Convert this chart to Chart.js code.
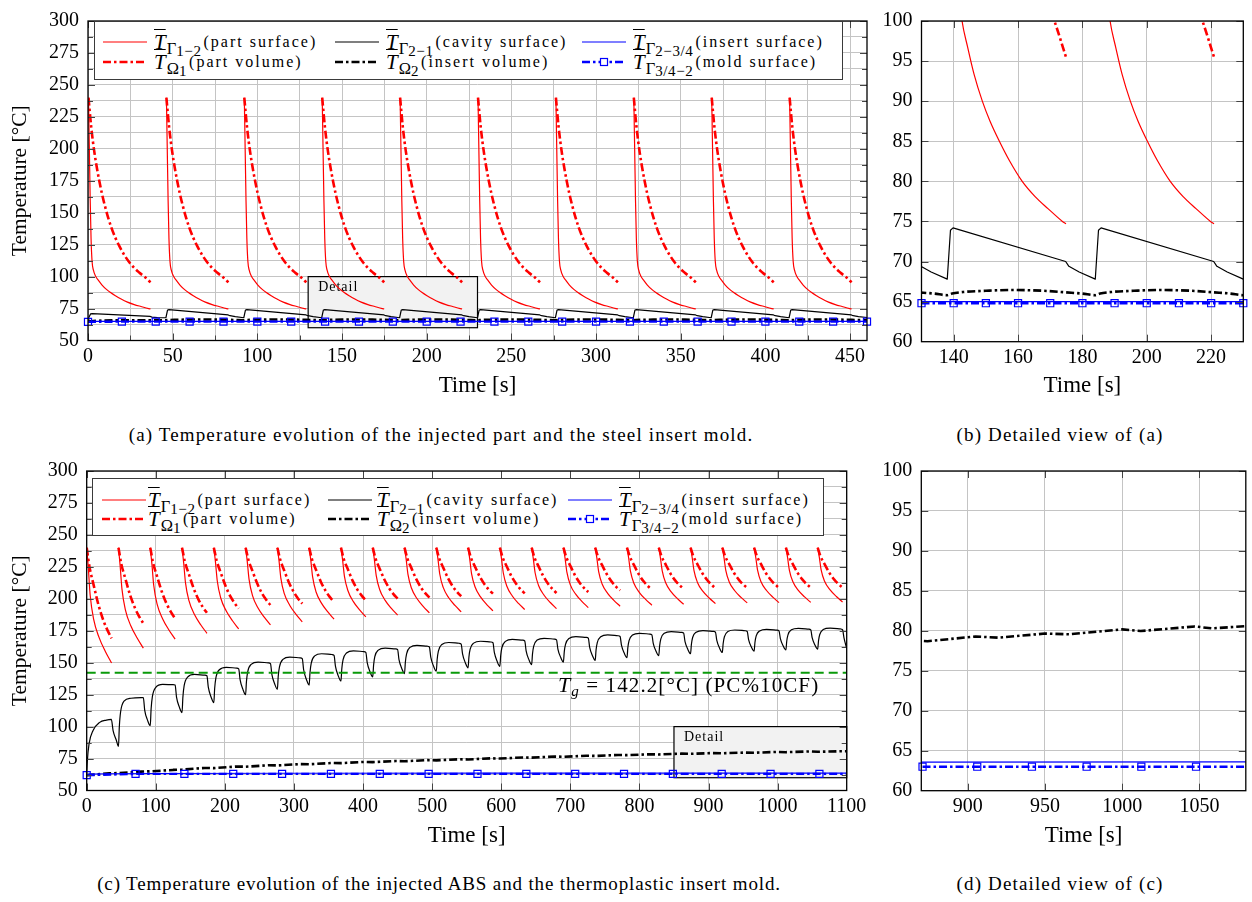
<!DOCTYPE html>
<html>
<head>
<meta charset="utf-8">
<title>Temperature evolution</title>
<script src="https://cdn.jsdelivr.net/npm/chart.js@4.4.1/dist/chart.umd.min.js"></script>
<style>
  html, body { margin:0; padding:0; background:#fff; }
  body { width:1252px; height:902px; position:relative; overflow:hidden; font-family:"Liberation Serif","Times New Roman",serif; color:#000; }
  canvas { position:absolute; }
  .legend { position:absolute; background:#fff; border:1.3px solid #3a3a3a; box-sizing:border-box; }
  .sample { position:absolute; }
  .ltext { position:absolute; white-space:nowrap; height:24px; line-height:24px; }
  .mT { font-style:italic; font-size:21px; text-decoration:overline; text-decoration-thickness:1px; }
  .mS { font-size:16.5px; position:relative; top:5px; margin-left:1px; }
  .mSS { font-size:15px; position:relative; top:2px; letter-spacing:0.6px; }
  .mD { font-size:16px; letter-spacing:2px; margin-left:2px; position:relative; top:-2px; }
  .caption { position:absolute; white-space:nowrap; font-size:19px; letter-spacing:1.15px; transform:translateX(-50%); line-height:24px; }
  .caption.c2 { letter-spacing:0.85px; }
  .tg { position:absolute; white-space:nowrap; font-size:21px; letter-spacing:1.1px; line-height:24px; }
  .tg i { font-size:22px; }
  .tg sub { font-size:15px; font-style:italic; vertical-align:-4px; }
</style>
</head>
<body>
<canvas id="cA" width="880" height="400" style="left:0;top:0"></canvas>
<canvas id="cB" width="372" height="400" style="left:880px;top:0"></canvas>
<canvas id="cC" width="880" height="400" style="left:0;top:450px"></canvas>
<canvas id="cD" width="372" height="400" style="left:880px;top:450px"></canvas>

<div id="legA" class="legend" style="left:94px;top:21px;width:749px;height:59px"></div>
<div id="legC" class="legend" style="left:92px;top:478px;width:732px;height:58px"></div>

<div class="tg" style="left:558px;top:673px"><i>T</i><sub>g</sub> = 142.2[°C] (PC%10CF)</div>

<div class="caption" style="left:441px;top:423px">(a) Temperature evolution of the injected part and the steel insert mold.</div>
<div class="caption" style="left:1060px;top:423px">(b) Detailed view of (a)</div>
<div class="caption c2" style="left:439px;top:872px">(c) Temperature evolution of the injected ABS and the thermoplastic insert mold.</div>
<div class="caption" style="left:1060px;top:872px">(d) Detailed view of (c)</div>

<script>
// ================= DATA: (a)/(b) steel insert mold =================
const cycleStartA = [0, 46, 92, 138, 184, 230, 276, 322, 368, 414];
// part surface (red solid), offsets within a cycle [s] and temperatures [°C]
const partSurfA_dt = [0.3, 0.8, 1.3, 1.8, 2.4, 3.2, 4.6, 6.3, 8.3, 10.9, 13.3, 16.2, 19.3, 23.3, 27.3, 31.3, 35.8, 36.9];
const partSurfA_T  = [240, 200, 160, 130, 112, 105, 100, 96.8, 93.4, 90, 87.5, 85, 82.6, 80, 78.1, 76.6, 75.0, 74.7];
// part volume (red dash-dot)
const partVolA_dt = [0.3, 1.9, 3.8, 6.8, 9.8, 13.7, 18.6, 24.5, 30.4, 33.3, 36.9];
const partVolA_T  = [240, 217, 197, 174, 156.3, 138.7, 123.6, 111, 103, 100, 95.5];
// cavity surface (black solid)
const cavityA_first_t = [0, 0.5, 1.5, 2.5, 36.8, 37.8, 41];
const cavityA_first_T = [65.5, 68, 70.8, 71.0, 68.8, 68.3, 67.9];
const cavityA_dt = [0, 1.0, 1.8, 36.8, 37.8, 41];
const cavityA_T  = [67.8, 73.9, 74.2, 70.0, 69.4, 68.7];
const cavityA_end = [460, 68.0];
// insert volume (black dash-dot)
const insertVolA_first_t = [0, 5, 15, 30, 40];
const insertVolA_first_T = [64.9, 65.4, 65.8, 65.9, 65.9];
const insertVolA_dt = [0, 1.5, 5, 12, 20, 30, 37, 42];
const insertVolA_T  = [65.8, 66.0, 66.2, 66.35, 66.45, 66.35, 66.15, 66.0];
const insertVolA_end = [460, 65.8];
// insert surface (blue solid)
const insertSurfA_t = [0, 2, 460];
const insertSurfA_T = [64.7, 65.0, 65.0];
// mold surface (blue dash-dot, squares)
const moldSurfA_t = [0,10,20,30,40,50,60,70,80,90,100,110,120,130,140,150,160,170,180,190,200,210,220,230,240,250,260,270,280,290,300,310,320,330,340,350,360,370,380,390,400,410,420,430,440,450,460];
const moldSurfA_T = [64.6,64.7,64.75,64.8,64.8,64.8,64.8,64.8,64.8,64.8,64.8,64.8,64.8,64.8,64.8,64.8,64.8,64.8,64.8,64.8,64.8,64.8,64.8,64.8,64.8,64.8,64.8,64.8,64.8,64.8,64.8,64.8,64.8,64.8,64.8,64.8,64.8,64.8,64.8,64.8,64.8,64.8,64.8,64.8,64.8,64.8,64.8];

// ================= DATA: (c)/(d) thermoplastic insert mold =================
const cycleStartC = [0,46,92,138,184,230,276,322,368,414,460,506,552,598,644,690,736,782,828,874,920,966,1012,1058];
const partSurfC_dt = [0, 2.4, 5, 10, 18, 27, 36];
const partSurfC = [
 [240,223.8,203.0,184.1,169.6,158.8,149.8],
 [240,225.9,207.8,191.3,178.7,169.3,161.4],
 [240,227.1,210.6,195.6,184.2,175.6,168.4],
 [240,227.9,212.5,198.5,187.7,179.7,173.0],
 [240,228.6,213.9,200.6,190.4,182.8,176.4],
 [240,229.1,215.2,202.5,192.8,185.6,179.5],
 [240,229.6,216.2,204.0,194.8,187.8,182.0],
 [240,229.9,217.1,205.3,196.4,189.7,184.1],
 [240,230.3,217.8,206.5,197.8,191.3,185.9],
 [240,230.5,218.4,207.3,198.8,192.5,187.2],
 [240,230.8,219.1,208.4,200.2,194.1,189.0],
 [240,231.0,219.4,208.9,200.8,194.8,189.8],
 [240,231.1,219.7,209.4,201.5,195.5,190.6],
 [240,231.3,220.2,210.0,202.2,196.4,191.6],
 [240,231.4,220.4,210.4,202.8,197.1,192.3],
 [240,231.6,220.8,210.9,203.4,197.8,193.1],
 [240,231.8,221.2,211.6,204.3,198.8,194.2],
 [240,231.9,221.6,212.1,204.9,199.5,195.0],
 [240,232.0,221.8,212.5,205.4,200.1,195.7],
 [240,232.1,222.0,212.8,205.8,200.6,196.2],
 [240,232.2,222.3,213.2,206.3,201.1,196.8],
 [240,232.3,222.4,213.3,206.5,201.3,197.0],
 [240,232.3,222.5,213.5,206.6,201.5,197.2],
 [240,232.4,222.6,213.7,206.9,201.8,197.5]
];
const partVolC_dt = [0, 4, 10, 17, 24, 30, 36];
const partVolC = [
 [240,225.1,210.9,195.3,183.3,175.5,169.1],
 [240,227.5,215.7,202.6,192.6,186.0,180.7],
 [240,228.4,217.3,205.1,195.7,189.6,184.6],
 [240,229.3,219.1,207.9,199.2,193.6,189.0],
 [240,230.0,220.5,210.0,201.9,196.7,192.4],
 [240,230.6,221.6,211.7,204.0,199.1,195.0],
 [240,230.8,222.0,212.4,205.0,200.1,196.2],
 [240,231.1,222.6,213.2,206.0,201.3,197.5],
 [240,231.3,223.1,214.0,207.0,202.5,198.8],
 [240,231.6,223.6,214.9,208.1,203.7,200.1],
 [240,231.8,224.0,215.4,208.7,204.4,200.9],
 [240,232.0,224.4,216.1,209.6,205.4,202.0],
 [240,232.4,225.2,217.3,211.2,207.2,204.0],
 [240,232.5,225.3,217.4,211.4,207.4,204.2],
 [240,232.5,225.4,217.6,211.6,207.7,204.5],
 [240,232.7,225.8,218.1,212.2,208.4,205.3],
 [240,233.0,226.3,219.0,213.3,209.6,206.6],
 [240,233.1,226.5,219.3,213.7,210.1,207.1],
 [240,233.2,226.8,219.7,214.2,210.7,207.8],
 [240,233.4,227.0,220.1,214.7,211.2,208.4],
 [240,233.4,227.1,220.2,214.8,211.3,208.5],
 [240,233.4,227.1,220.2,214.9,211.4,208.6],
 [240,233.4,227.2,220.3,215.0,211.5,208.7],
 [240,233.4,227.2,220.3,215.0,211.6,208.8]
];
const cavityC_first_t = [0, 1, 3.4, 9.2, 18.8, 28.5, 35.7, 38.2, 43];
const cavityC_first_T = [62, 73.6, 86.5, 96.9, 103.3, 105.1, 105.6, 96.9, 89.1];
const cavityC_dt = [0, 1.2, 3, 8, 18, 33, 36, 38, 42];
const cavityC = [
 [84.5,99.7,111.2,119.9,122.2,122.6,122.6,112.7,105.1],
 [100.7,113.6,123.3,130.7,133.0,132.8,132.5,123.1,115.4],
 [111.0,122.9,131.9,138.7,140.8,140.3,139.8,130.9,123.2],
 [118.8,129.8,138.1,144.5,146.4,145.8,145.2,136.8,129.3],
 [125.0,135.2,142.9,148.7,150.5,149.9,149.3,140.9,133.5],
 [129.2,139.3,146.8,152.6,154.4,153.8,153.2,144.5,136.9],
 [132.5,142.3,149.7,155.3,157.0,156.4,155.8,147.4,139.9],
 [135.6,145.1,152.2,157.6,159.3,158.7,158.1,150.1,143.0],
 [138.9,147.9,154.7,159.8,161.4,160.8,160.2,152.4,145.5],
 [141.5,150.3,156.9,162.0,163.5,162.9,162.3,154.4,147.3],
 [143.3,152.3,159.1,164.2,165.8,165.2,164.6,156.9,150.0],
 [146.0,154.3,160.6,165.3,166.8,166.2,165.6,158.0,151.1],
 [147.2,155.6,161.9,166.7,168.2,167.6,167.0,159.3,152.4],
 [148.5,156.7,162.9,167.7,169.1,168.5,167.9,160.7,154.2],
 [150.5,158.5,164.4,169.0,170.4,169.8,169.2,162.0,155.5],
 [151.8,159.8,165.7,170.3,171.7,171.1,170.5,163.7,157.5],
 [154.0,161.6,167.3,171.7,173.0,172.4,171.8,165.1,159.0],
 [155.5,163.0,168.7,173.0,174.3,173.7,173.1,166.5,160.5],
 [157.0,164.2,169.7,173.8,175.1,174.5,173.9,167.4,161.4],
 [158.0,165.0,170.3,174.4,175.6,175.0,174.4,168.1,162.3],
 [159.0,165.8,171.0,174.9,176.1,175.5,174.9,168.9,163.2],
 [160.0,166.8,171.8,175.7,176.9,176.3,175.7,169.6,163.9],
 [160.6,167.2,172.1,175.9,177.0,176.4,175.8,169.7,161.0]
];
const insertVolC_t = [0,33,46,79,92,125,138,171,184,217,230,263,276,309,322,355,368,401,414,447,460,493,506,539,552,585,598,631,644,677,690,723,736,769,782,815,828,861,874,905,920,950,966,1000,1012,1047,1058,1091,1100];
const insertVolC_T = [62.0,63.4,63.6,64.8,65.0,66.1,66.3,67.65,67.5,68.75,68.6,69.75,69.6,70.65,70.5,71.55,71.4,72.35,72.2,73.05,72.9,73.75,73.6,74.45,74.3,75.15,75.0,75.85,75.7,76.55,76.4,77.2,77.05,77.8,77.65,78.35,78.2,78.85,78.7,79.29,79.15,79.66,79.57,80.19,79.98,80.55,80.31,80.72,80.7];
const insertSurfC_t = [0, 4, 30, 100, 300, 600, 1100];
const insertSurfC_T = [62.0, 62.8, 63.1, 63.3, 63.5, 63.55, 63.6];
const moldSurfC_t = [0,70.7,141.4,212.1,282.8,353.5,424.2,494.9,565.6,636.3,707,777.7,848.4,919.1,989.8,1060.5,1100];
const moldSurfC_T = [62.0,63.0,63.0,63.0,63.0,63.0,63.0,63.0,63.0,63.0,63.0,63.0,63.0,63.0,63.0,63.0,63.0];
const moldSurfD_t = [870.8,906.2,941.6,977.0,1012.4,1047.8,1080];
const moldSurfD_T = [63.0,63.0,63.0,63.0,63.0,63.0,63.0];
const glassTransition_t = [0, 1100];
const glassTransition_T = [142.2, 142.2];

// ================= TICKS =================
const xMajorA = [0,50,100,150,200,250,300,350,400,450];
const xMinorA = [25,75,125,175,225,275,325,375,425];
const yMajorAC = [50,75,100,125,150,175,200,225,250,275,300];
const yMinorAC = [62.5,87.5,112.5,137.5,162.5,187.5,212.5,237.5,262.5,287.5];
const xMajorB = [140,160,180,200,220];
const yMajorBD = [60,65,70,75,80,85,90,95,100];
const xMajorC = [0,100,200,300,400,500,600,700,800,900,1000,1100];
const xMajorD = [900,950,1000,1050];

// ================= LEGEND TEXT =================
const legendSym = ['Γ','Ω','Γ','Ω','Γ','Γ'];
const legendIdx = ['1−2','1','2−1','2','2−3/4','3/4−2'];
const legendDesc = ['(part surface)','(part volume)','(cavity surface)','(insert volume)','(insert surface)','(mold surface)'];

// ================= BUILD =================
const FONT = "'Liberation Serif','Times New Roman',serif";
const RED = '#ff0000', BLACK = '#000000', BLUE = '#0000ff', GREEN = '#0a9a0a';
const DASHDOT = [8, 3, 2.5, 3];

function pairs(ts, vs) { return ts.map((t, i) => ({x: t, y: vs[i]})); }
function cyclic(starts, dt, rows) {
  const pts = [];
  starts.forEach((t0, k) => {
    const vals = Array.isArray(rows[0]) ? rows[k] : rows;
    dt.forEach((d, i) => pts.push({x: t0 + d, y: vals[i]}));
    pts.push({x: t0 + dt[dt.length - 1] + 0.001, y: null});
  });
  return pts;
}
function continuous(firstT, firstV, starts, dt, rows, end) {
  const pts = pairs(firstT, firstV);
  starts.forEach((t0, k) => {
    const vals = Array.isArray(rows[0]) ? rows[k] : rows;
    dt.forEach((d, i) => pts.push({x: t0 + d, y: vals[i]}));
  });
  if (end) pts.push({x: end[0], y: end[1]});
  return pts;
}

const ptsA = {
  partSurf: cyclic(cycleStartA, partSurfA_dt, partSurfA_T),
  partVol: cyclic(cycleStartA, partVolA_dt, partVolA_T),
  cavity: continuous(cavityA_first_t, cavityA_first_T, cycleStartA.slice(1), cavityA_dt, cavityA_T, cavityA_end),
  insertVol: continuous(insertVolA_first_t, insertVolA_first_T, cycleStartA.slice(1), insertVolA_dt, insertVolA_T, insertVolA_end),
  insertSurf: pairs(insertSurfA_t, insertSurfA_T),
  mold: pairs(moldSurfA_t, moldSurfA_T)
};
const ptsC = {
  partSurf: cyclic(cycleStartC, partSurfC_dt, partSurfC),
  partVol: cyclic(cycleStartC, partVolC_dt, partVolC),
  cavity: continuous(cavityC_first_t, cavityC_first_T, cycleStartC.slice(1), cavityC_dt, cavityC, null),
  insertVol: pairs(insertVolC_t, insertVolC_T),
  insertSurf: pairs(insertSurfC_t, insertSurfC_T),
  mold: pairs(moldSurfC_t, moldSurfC_T),
  moldD: pairs(moldSurfD_t, moldSurfD_T),
  tg: pairs(glassTransition_t, glassTransition_T)
};

function ds(data, color, width, dash, order, extra) {
  return Object.assign({
    data, borderColor: color, backgroundColor: color, borderWidth: width,
    borderDash: dash || [], pointRadius: 0, pointHoverRadius: 0, fill: false, spanGaps: false,
    order, clip: 0, borderCapStyle: 'butt', borderJoinStyle: 'round', tension: 0
  }, extra || {});
}
const SMOOTH = {cubicInterpolationMode: 'monotone'};
function moldDs(data, radiusFn) {
  return ds(data, BLUE, 2.4, DASHDOT, 1, {
    pointStyle: 'rect', pointRadius: radiusFn, pointBorderColor: BLUE,
    pointBackgroundColor: 'rgba(0,0,0,0)', pointBorderWidth: 1.2,
    clip: {left: 8, right: 8, top: 0, bottom: 0}
  });
}

function decoPlugin(id, xMaj, xMin, yMaj, yMin, box) {
  return {
    id,
    beforeDatasetsDraw(chart) {
      if (!box) return;
      const {ctx} = chart, xs = chart.scales.x, ys = chart.scales.y;
      const x0 = xs.getPixelForValue(box.x0), x1 = xs.getPixelForValue(box.x1);
      const y0 = ys.getPixelForValue(box.y1), y1 = ys.getPixelForValue(box.y0);
      ctx.save();
      ctx.fillStyle = '#f2f2f2';
      ctx.fillRect(x0, y0, x1 - x0, y1 - y0);
      ctx.strokeStyle = '#000'; ctx.lineWidth = 1.2;
      ctx.strokeRect(x0, y0, x1 - x0, y1 - y0);
      ctx.fillStyle = '#000';
      ctx.font = "14px " + FONT;
      ctx.textBaseline = 'middle';
      if ('letterSpacing' in ctx) ctx.letterSpacing = '1px';
      ctx.fillText(box.label, x0 + 10, y0 + 11);
      ctx.restore();
    },
    afterDatasetsDraw(chart) {
      const {ctx, chartArea: a} = chart, xs = chart.scales.x, ys = chart.scales.y;
      ctx.save();
      ctx.strokeStyle = '#444'; ctx.lineWidth = 1;
      ctx.beginPath();
      const mark = (vals, len, horiz) => vals.forEach(v => {
        if (horiz) {
          const p = Math.round(xs.getPixelForValue(v)) + 0.5;
          if (p < a.left || p > a.right) return;
          ctx.moveTo(p, a.bottom); ctx.lineTo(p, a.bottom - len);
          ctx.moveTo(p, a.top); ctx.lineTo(p, a.top + len);
        } else {
          const p = Math.round(ys.getPixelForValue(v)) + 0.5;
          if (p < a.top || p > a.bottom) return;
          ctx.moveTo(a.left, p); ctx.lineTo(a.left + len, p);
          ctx.moveTo(a.right, p); ctx.lineTo(a.right - len, p);
        }
      });
      mark(xMaj, 7, true); mark(xMin, 5, true); mark(yMaj, 7, false); mark(yMin, 5, false);
      ctx.stroke();
      ctx.strokeStyle = '#000'; ctx.lineWidth = 1.3;
      ctx.strokeRect(a.left, a.top, a.right - a.left, a.bottom - a.top);
      ctx.restore();
    }
  };
}

function makeChart(id, cfg) {
  const allX = cfg.xMaj.concat(cfg.xMin).sort((a, b) => a - b);
  const allY = cfg.yMaj.concat(cfg.yMin).sort((a, b) => a - b);
  const yScale = {
    type: 'linear', min: cfg.yMin0, max: cfg.yMax0, position: 'left',
    afterFit: s => { s.width = cfg.yW; },
    afterBuildTicks: s => { s.ticks = allY.map(v => ({value: v})); },
    ticks: { callback: v => cfg.yMaj.includes(v) ? String(v) : '', font: {family: FONT, size: 20}, color: '#000', padding: 9, autoSkip: false },
    grid: { color: '#c4c4c4', lineWidth: 1, drawTicks: false },
    border: { display: false },
    title: cfg.yTitle ? { display: true, text: cfg.yTitle, font: {family: FONT, size: 21.5}, color: '#000', padding: {top: 7, bottom: 0} } : {display: false}
  };
  const xScale = {
    type: 'linear', min: cfg.xMin0, max: cfg.xMax0, position: 'bottom',
    afterFit: s => { s.height = cfg.xH; },
    afterBuildTicks: s => { s.ticks = allX.map(v => ({value: v})); },
    ticks: { callback: v => cfg.xMaj.includes(v) ? String(v) : '', font: {family: FONT, size: 20}, color: '#000', padding: 4, autoSkip: false, maxRotation: 0, minRotation: 0 },
    grid: { color: '#c4c4c4', lineWidth: 1, drawTicks: false },
    border: { display: false },
    title: { display: true, text: 'Time [s]', font: {family: FONT, size: 23}, color: '#000', padding: {top: 0, bottom: 0} }
  };
  return new Chart(document.getElementById(id), {
    type: 'line',
    data: { datasets: cfg.datasets },
    options: {
      responsive: false, animation: false, devicePixelRatio: 1,
      parsing: true, normalized: true,
      layout: { padding: cfg.pad },
      plugins: { legend: {display: false}, tooltip: {enabled: false} },
      scales: { x: xScale, y: yScale }
    },
    plugins: [decoPlugin(id + 'deco', cfg.xMaj, cfg.xMin, cfg.yMaj, cfg.yMin, cfg.box)]
  });
}

Chart.defaults.font.family = FONT;

// (a)
makeChart('cA', {
  xMin0: 0, xMax0: 460, yMin0: 50, yMax0: 300,
  xMaj: xMajorA, xMin: xMinorA, yMaj: yMajorAC, yMin: yMinorAC,
  yW: 88, xH: 59.5, pad: {left: 0, right: 13, top: 10, bottom: 0},
  yTitle: 'Temperature [°C]',
  box: {x0: 130, x1: 230, y0: 60, y1: 100, label: 'Detail'},
  datasets: [
    ds(ptsA.partSurf, RED, 1.2, null, 6, SMOOTH),
    ds(ptsA.partVol, RED, 2.6, DASHDOT, 5, SMOOTH),
    ds(ptsA.cavity, BLACK, 1.2, null, 4),
    ds(ptsA.insertVol, BLACK, 2.6, DASHDOT, 3),
    ds(ptsA.insertSurf, BLUE, 1.2, null, 2),
    moldDs(ptsA.mold, c => (c.raw && c.raw.x % 20 === 0) ? 5 : 0)
  ]
});
// (b)
makeChart('cB', {
  xMin0: 130, xMax0: 230, yMin0: 60, yMax0: 100,
  xMaj: xMajorB, xMin: [], yMaj: yMajorBD, yMin: [],
  yW: 41.5, xH: 58.3, pad: {left: 0, right: 8.7, top: 20, bottom: 0},
  yTitle: null, box: null,
  datasets: [
    ds(ptsA.partSurf, RED, 1.2, null, 6, SMOOTH),
    ds(ptsA.partVol, RED, 2.6, DASHDOT, 5, SMOOTH),
    ds(ptsA.cavity, BLACK, 1.2, null, 4),
    ds(ptsA.insertVol, BLACK, 2.6, DASHDOT, 3, SMOOTH),
    ds(ptsA.insertSurf, BLUE, 1.2, null, 2),
    moldDs(ptsA.mold.filter(p => p.x >= 130 && p.x <= 230), 5)
  ]
});
// (c)
makeChart('cC', {
  xMin0: 0, xMax0: 1100, yMin0: 50, yMax0: 300,
  xMaj: xMajorC, xMin: [], yMaj: yMajorAC, yMin: yMinorAC,
  yW: 86.7, xH: 59.5, pad: {left: 0, right: 33.3, top: 18, bottom: 0},
  yTitle: 'Temperature [°C]',
  box: {x0: 850, x1: 1100, y0: 60, y1: 100, label: 'Detail'},
  datasets: [
    ds(ptsC.partSurf, RED, 1.2, null, 6, SMOOTH),
    ds(ptsC.partVol, RED, 2.6, DASHDOT, 5, SMOOTH),
    ds(ptsC.cavity, BLACK, 1.2, null, 4, SMOOTH),
    ds(ptsC.insertVol, BLACK, 2.6, DASHDOT, 3),
    ds(ptsC.insertSurf, BLUE, 1.2, null, 2),
    moldDs(ptsC.mold, c => (c.raw && c.raw.x < 1099) ? 5 : 0),
    ds(ptsC.tg, GREEN, 2, [9, 5], 0)
  ]
});
// (d)
makeChart('cD', {
  xMin0: 870, xMax0: 1080, yMin0: 60, yMax0: 100,
  xMaj: xMajorD, xMin: [], yMaj: yMajorBD, yMin: [],
  yW: 41.3, xH: 59.3, pad: {left: 0, right: 6, top: 15.7, bottom: 0},
  yTitle: null, box: null,
  datasets: [
    ds(ptsC.cavity, BLACK, 1.2, null, 4),
    ds(ptsC.insertVol, BLACK, 2.6, DASHDOT, 3),
    ds(ptsC.insertSurf, BLUE, 1.2, null, 2),
    moldDs(ptsC.moldD, c => (c.raw && c.raw.x < 1079) ? 5 : 0)
  ]
});

// ================= LEGENDS (HTML) =================
const legendStyles = [
  {color: RED, width: 1.2, dash: null, marker: false},
  {color: RED, width: 2.6, dash: DASHDOT, marker: false},
  {color: BLACK, width: 1.2, dash: null, marker: false},
  {color: BLACK, width: 2.6, dash: DASHDOT, marker: false},
  {color: BLUE, width: 1.2, dash: null, marker: false},
  {color: BLUE, width: 2.4, dash: DASHDOT, marker: true}
];
function sampleSVG(st) {
  const w = 44, h = 14;
  let s = '<svg width="' + w + '" height="' + h + '" xmlns="http://www.w3.org/2000/svg">' +
    '<line x1="0" y1="7" x2="' + w + '" y2="7" stroke="' + st.color + '" stroke-width="' + st.width + '"' +
    (st.dash ? ' stroke-dasharray="' + st.dash.join(' ') + '"' : '') + '/>';
  if (st.marker) s += '<rect x="' + (w / 2 - 3.5) + '" y="3.5" width="7" height="7" fill="#fff" stroke="' + st.color + '" stroke-width="1.2"/>';
  return s + '</svg>';
}
function buildLegend(elId, cols, rows) {
  const el = document.getElementById(elId);
  let html = '';
  for (let i = 0; i < 6; i++) {
    const c = Math.floor(i / 2), r = i % 2;
    const cy = rows[r];
    html += '<div class="sample" style="left:' + cols[c][0] + 'px;top:' + (cy - 7) + 'px">' + sampleSVG(legendStyles[i]) + '</div>';
    html += '<div class="ltext" style="left:' + cols[c][1] + 'px;top:' + (cy - 12) + 'px">' +
      '<span class="mT">T</span><span class="mS">' + legendSym[i] + '<span class="mSS">' + legendIdx[i] + '</span></span>' +
      '<span class="mD">' + legendDesc[i] + '</span></div>';
  }
  el.innerHTML = html;
}
buildLegend('legA', [[8, 59], [240, 291], [487, 538]], [19.5, 39.5]);
buildLegend('legC', [[9, 55], [235, 284], [475, 526]], [21, 40]);
</script>
</body>
</html>
